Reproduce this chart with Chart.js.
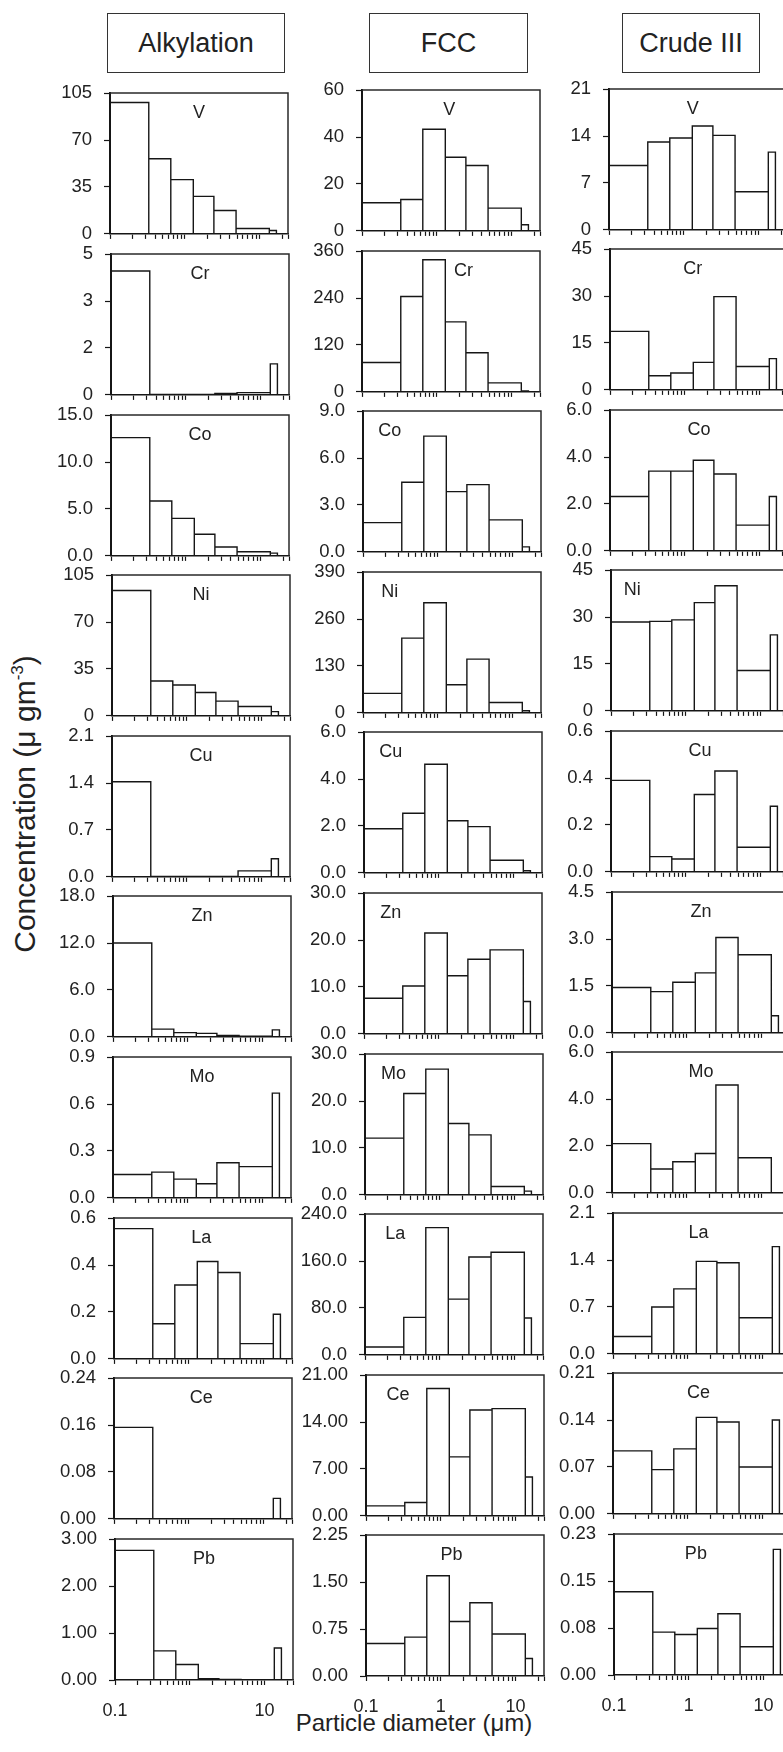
<!DOCTYPE html>
<html><head><meta charset="utf-8">
<script src="https://cdn.jsdelivr.net/npm/chart.js@4.4.1/dist/chart.umd.min.js"></script>
<style>
html,body{margin:0;padding:0;background:#fff;}
body{width:783px;height:1752px;position:relative;overflow:hidden;font-family:"Liberation Sans",Arial,Helvetica,sans-serif;color:#222;}
.hdr{position:absolute;border:1.5px solid #333;box-sizing:border-box;display:flex;align-items:center;justify-content:center;font-size:27px;color:#222;}
canvas{position:absolute;}
#ytitle{position:absolute;left:25px;top:804px;transform:translate(-50%,-50%) rotate(-90deg);font-size:30px;white-space:nowrap;color:#222;}
#ytitle sup{font-size:17px;vertical-align:12px;line-height:0;}
#xtitle{position:absolute;left:414px;top:1723px;transform:translate(-50%,-50%);font-size:24px;white-space:nowrap;color:#222;}
</style></head><body>
<div class="hdr" style="left:107px;top:13px;width:178px;height:60px;">Alkylation</div>
<div class="hdr" style="left:369px;top:13px;width:159px;height:60px;">FCC</div>
<div class="hdr" style="left:622px;top:13px;width:138px;height:60px;">Crude III</div>
<div id="ytitle">Concentration (μ gm<sup>-3</sup>)</div>
<div id="xtitle">Particle diameter (μm)</div>
<script>
// ---------- data ----------
const sources = ['Alkylation', 'FCC', 'Crude III'];
const elements = ['V', 'Cr', 'Co', 'Ni', 'Cu', 'Zn', 'Mo', 'La', 'Ce', 'Pb'];
const binEdges = [0.1, 0.33, 0.65, 1.3, 2.45, 4.85, 13.5, 16.8];
const xMin = 0.1, xMax = 24;
const xTickValues = [0.1,0.2,0.3,0.4,0.5,0.6,0.7,0.8,0.9,1,2,3,4,5,6,7,8,9,10,20,24];
const xTickLabelsAlk = ['0.1', '10'];
const xTickLabelsOther = ['0.1', '1', '10'];

const alkYMax = [105, 5, 15, 105, 2.1, 18, 0.9, 0.6, 0.24, 3];
const alkYLabels = [['0','35','70','105'],['0','2','3','5'],['0.0','5.0','10.0','15.0'],['0','35','70','105'],['0.0','0.7','1.4','2.1'],['0.0','6.0','12.0','18.0'],['0.0','0.3','0.6','0.9'],['0.0','0.2','0.4','0.6'],['0.00','0.08','0.16','0.24'],['0.00','1.00','2.00','3.00']];
const fccYMax = [60, 360, 9, 390, 6, 30, 30, 240, 21, 2.25];
const fccYLabels = [['0','20','40','60'],['0','120','240','360'],['0.0','3.0','6.0','9.0'],['0','130','260','390'],['0.0','2.0','4.0','6.0'],['0.0','10.0','20.0','30.0'],['0.0','10.0','20.0','30.0'],['0.0','80.0','160.0','240.0'],['0.00','7.00','14.00','21.00'],['0.00','0.75','1.50','2.25']];
const crdYMax = [21, 45, 6, 45, 0.6, 4.5, 6, 2.1, 0.21, 0.23];
const crdYLabels = [['0','7','14','21'],['0','15','30','45'],['0.0','2.0','4.0','6.0'],['0','15','30','45'],['0.0','0.2','0.4','0.6'],['0.0','1.5','3.0','4.5'],['0.0','2.0','4.0','6.0'],['0.0','0.7','1.4','2.1'],['0.00','0.07','0.14','0.21'],['0.00','0.08','0.15','0.23']];

const alkV  = [98, 56, 40.5, 28, 17.5, 4, 2.5];
const alkCr = [4.4, 0.02, 0.02, 0.02, 0.05, 0.08, 1.1];
const alkCo = [12.6, 5.85, 4.0, 2.3, 0.95, 0.45, 0.3];
const alkNi = [93.5, 26, 23, 17.5, 11, 7, 3.2];
const alkCu = [1.42, 0.005, 0.005, 0.005, 0.005, 0.09, 0.27];
const alkZn = [12.0, 1.0, 0.55, 0.45, 0.2, 0.1, 0.9];
const alkMo = [0.15, 0.165, 0.12, 0.09, 0.225, 0.2, 0.67];
const alkLa = [0.555, 0.15, 0.315, 0.415, 0.368, 0.065, 0.19];
const alkCe = [0.156, 0, 0, 0, 0, 0, 0.035];
const alkPb = [2.76, 0.62, 0.33, 0.03, 0.01, 0, 0.68];

const fccV  = [12, 13.4, 43.3, 31.4, 27.9, 9.7, 2.6];
const fccCr = [75, 244, 338, 179, 100, 23, 2.5];
const fccCo = [1.87, 4.45, 7.4, 3.85, 4.3, 2.05, 0.32];
const fccNi = [54, 207, 305, 78, 149, 29, 6];
const fccCu = [1.88, 2.54, 4.63, 2.22, 1.97, 0.54, 0.09];
const fccZn = [7.6, 10.2, 21.5, 12.4, 15.9, 17.9, 6.9];
const fccMo = [12.1, 21.6, 26.8, 15.2, 12.8, 1.8, 0.8];
const fccLa = [13.5, 64, 217, 95, 167, 175, 63];
const fccCe = [1.5, 2.0, 19.0, 8.8, 15.8, 16.0, 5.8];
const fccPb = [0.52, 0.62, 1.60, 0.87, 1.17, 0.67, 0.28];

const crdV  = [9.6, 13.1, 13.7, 15.5, 14.1, 5.7, 11.6];
const crdCr = [18.7, 4.5, 5.4, 8.8, 29.8, 7.5, 10.0];
const crdCo = [2.32, 3.4, 3.4, 3.86, 3.28, 1.1, 2.32];
const crdNi = [28.4, 28.6, 29.1, 34.6, 40, 12.9, 24.3];
const crdCu = [0.39, 0.065, 0.055, 0.33, 0.43, 0.105, 0.28];
const crdZn = [1.45, 1.32, 1.62, 1.92, 3.05, 2.5, 0.55];
const crdMo = [2.1, 1.02, 1.33, 1.68, 4.6, 1.5, 0];
const crdLa = [0.26, 0.7, 0.97, 1.38, 1.36, 0.54, 1.6];
const crdCe = [0.094, 0.066, 0.097, 0.144, 0.137, 0.07, 0.14];
const crdPb = [0.136, 0.07, 0.066, 0.076, 0.1, 0.046, 0.205];

const seriesByColumn = [
  [alkV, alkCr, alkCo, alkNi, alkCu, alkZn, alkMo, alkLa, alkCe, alkPb],
  [fccV, fccCr, fccCo, fccNi, fccCu, fccZn, fccMo, fccLa, fccCe, fccPb],
  [crdV, crdCr, crdCo, crdNi, crdCu, crdZn, crdMo, crdLa, crdCe, crdPb]
];
const yMaxByColumn = [alkYMax, fccYMax, crdYMax];
const yLabelsByColumn = [alkYLabels, fccYLabels, crdYLabels];

// ---------- layout ----------
const PLOT_W = 178, PLOT_H = 141;
const colLeft0 = [110, 361.5, 609];
const colBottom0 = [234.3, 231, 229.5];
const ROW_PITCH = 160.6, LEFT_DRIFT = 0.55;
const YW = 66, PT = 14, PR = 10, PB = 4;
const labelFx = [
  [0.5,0.5,0.5,0.5,0.5,0.5,0.5,0.49,0.49,0.5],
  [0.49,0.57,0.15,0.15,0.15,0.15,0.16,0.17,0.18,0.48],
  [0.47,0.465,0.5,0.12,0.5,0.5,0.5,0.48,0.48,0.46]
];
const INK = '#161616';
const FONT = '"Liberation Sans", Arial, Helvetica, sans-serif';

const boxPlugin = {
  id: 'box',
  afterDraw(chart) {
    const a = chart.chartArea, ctx = chart.ctx;
    ctx.save();
    ctx.strokeStyle = '#2a2a2a';
    ctx.lineWidth = 1.5;
    ctx.beginPath();
    ctx.moveTo(a.left, a.top);
    ctx.lineTo(a.right, a.top);
    ctx.lineTo(a.right, a.bottom);
    ctx.stroke();
    ctx.restore();
  }
};
const labelPlugin = {
  id: 'elemLabel',
  afterDatasetsDraw(chart, args, opts) {
    const a = chart.chartArea, ctx = chart.ctx;
    ctx.save();
    ctx.fillStyle = '#222';
    ctx.font = '18px ' + FONT;
    ctx.textAlign = 'center';
    ctx.textBaseline = 'middle';
    ctx.fillText(opts.text, a.left + opts.fx * (a.right - a.left), a.top + 20);
    ctx.restore();
  }
};

function histogramPoints(values) {
  const pts = [];
  values.forEach((v, i) => {
    pts.push({x: binEdges[i], y: 0}, {x: binEdges[i], y: v},
             {x: binEdges[i + 1], y: v}, {x: binEdges[i + 1], y: 0});
  });
  return pts;
}

for (let c = 0; c < 3; c++) {
  for (let r = 0; r < 10; r++) {
    const isBottom = r === 9;
    const XH = isBottom ? 46 : 12;
    const W = YW + PLOT_W + PR;
    const H = PT + PLOT_H + XH + PB;
    const targetLeft = Math.round(colLeft0[c] + r * LEFT_DRIFT);
    const targetBottom = Math.round(colBottom0[c] + r * ROW_PITCH);
    const cv = document.createElement('canvas');
    cv.width = W; cv.height = H;
    cv.style.width = W + 'px'; cv.style.height = H + 'px';
    document.body.appendChild(cv);
    const yMax = yMaxByColumn[c][r];
    const yLabels = yLabelsByColumn[c][r];
    const xLabels = isBottom ? (c === 0 ? xTickLabelsAlk : xTickLabelsOther) : [];
    const chart = new Chart(cv, {
      type: 'scatter',
      data: {datasets: [{
        data: histogramPoints(seriesByColumn[c][r]),
        showLine: true, borderColor: INK, borderWidth: 1.4,
        pointRadius: 0, pointHoverRadius: 0, fill: false, tension: 0,
        borderJoinStyle: 'miter'
      }]},
      options: {
        responsive: false, maintainAspectRatio: false, animation: false, devicePixelRatio: 1,
        layout: {padding: {left: 0, top: PT, right: PR, bottom: PB}},
        plugins: {legend: {display: false}, tooltip: {enabled: false},
                  elemLabel: {text: elements[r], fx: labelFx[c][r]}},
        scales: {
          x: {
            type: 'logarithmic', min: xMin, max: xMax,
            afterBuildTicks: s => { s.ticks = xTickValues.map(v => ({value: v})); },
            afterFit: s => { s.height = XH; },
            grid: {display: true, drawOnChartArea: false, drawTicks: true, tickLength: 5, tickColor: INK, tickWidth: 1.2},
            border: {display: true, color: INK, width: 1.6},
            ticks: {autoSkip: false, maxRotation: 0, minRotation: 0, padding: 15, color: '#222',
                    font: {family: FONT, size: 18},
                    callback: v => { const s = String(v); return xLabels.includes(s) ? s : ''; }}
          },
          y: {
            type: 'linear', min: 0, max: yMax,
            afterBuildTicks: s => { s.ticks = [0, 1, 2, 3].map(k => ({value: yMax * k / 3})); },
            afterFit: s => { s.width = YW; },
            grid: {display: true, drawOnChartArea: false, drawTicks: true, tickLength: 6, tickColor: INK, tickWidth: 1.2},
            border: {display: true, color: INK, width: 2},
            ticks: {padding: 12, color: '#222', font: {family: FONT, size: 18.5},
                    callback: (v, i) => yLabels[i]}
          }
        }
      },
      plugins: [boxPlugin, labelPlugin]
    });
    // make the plot area exactly PLOT_W x PLOT_H, then align it with the target position
    let a = chart.chartArea;
    const dw = PLOT_W - (a.right - a.left);
    const dh = PLOT_H - (a.bottom - a.top);
    if (Math.abs(dw) > 0.5 || Math.abs(dh) > 0.5) {
      chart.resize(Math.round(W + dw), Math.round(H + dh));
      a = chart.chartArea;
    }
    cv.style.left = (targetLeft - Math.round(a.left)) + 'px';
    cv.style.top = (targetBottom - Math.round(a.bottom)) + 'px';
  }
}
</script>
</body></html>
